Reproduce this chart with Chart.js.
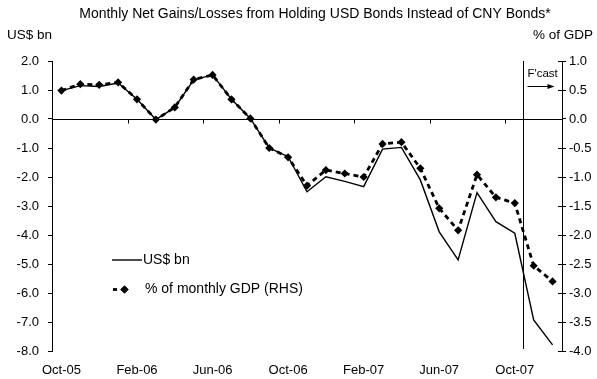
<!DOCTYPE html>
<html>
<head>
<meta charset="utf-8">
<script src="https://cdn.jsdelivr.net/npm/chart.js@4"></script>
<style>
  html, body { margin: 0; padding: 0; background: #fff; }
  canvas { display: block; }
</style>
</head>
<body>
<canvas id="chart" width="597" height="379"></canvas>
<script>
// Monthly categories, Oct-05 through Dec-07
const months = ['Oct-05','Nov-05','Dec-05','Jan-06','Feb-06','Mar-06','Apr-06','May-06','Jun-06',
                'Jul-06','Aug-06','Sep-06','Oct-06','Nov-06','Dec-06','Jan-07','Feb-07','Mar-07',
                'Apr-07','May-07','Jun-07','Jul-07','Aug-07','Sep-07','Oct-07','Nov-07','Dec-07'];

// Net gain/loss, US$ bn (left axis)
const usdBn = [0.98, 1.15, 1.12, 1.24, 0.68, -0.02, 0.40, 1.35, 1.52, 0.68, 0.02, -1.00, -1.30,
               -2.51, -1.99, -2.15, -2.33, -1.04, -0.98, -2.10, -3.89, -4.86, -2.54, -3.54, -3.94,
               -6.93, -7.79];

// Net gain/loss, % of monthly GDP (right axis)
const pctGdp = [0.49, 0.60, 0.59, 0.63, 0.34, -0.01, 0.20, 0.68, 0.76, 0.34, 0.01, -0.50, -0.66,
                -1.15, -0.88, -0.94, -1.00, -0.43, -0.40, -0.85, -1.54, -1.92, -0.96, -1.35, -1.45,
                -2.53, -2.80];

const seriesLabels = ['US$ bn', '% of monthly GDP (RHS)'];
const titleText = 'Monthly Net Gains/Losses from Holding USD Bonds Instead of CNY Bonds*';
const leftUnit = 'US$ bn';
const rightUnit = '% of GDP';
const forecastLabel = "F'cast";
const firstForecastMonth = 'Nov-07';
const labelEvery = 4;

const FONT = "'Liberation Sans', Arial, sans-serif";
Chart.defaults.font.family = FONT;
Chart.defaults.color = '#000';

// Texts above the plot: title and axis unit captions
const headerPlugin = {
  id: 'header',
  afterDraw(chart) {
    const ctx = chart.ctx;
    ctx.save();
    ctx.fillStyle = '#000';
    ctx.textBaseline = 'middle';
    ctx.font = '14px ' + FONT;
    ctx.textAlign = 'center';
    ctx.fillText(titleText, 315, 14);
    ctx.font = '13.5px ' + FONT;
    ctx.textAlign = 'left';
    ctx.fillText(leftUnit, 7, 35);
    ctx.textAlign = 'right';
    ctx.fillText(rightUnit, 593, 35);
    ctx.restore();
  }
};

// Horizontal axis line at zero with boundary tick marks, cross ticks on the right axis,
// and the forecast divider
const axesPlugin = {
  id: 'axesExtras',
  beforeDatasetsDraw(chart) {
    const { ctx, chartArea, scales } = chart;
    const x = scales.x, y = scales.y, y2 = scales.y2;
    ctx.save();
    ctx.strokeStyle = '#000';
    ctx.lineWidth = 1;
    const y0 = Math.round(y.getPixelForValue(0)) + 0.5;
    ctx.beginPath();
    ctx.moveTo(chartArea.left, y0);
    ctx.lineTo(chartArea.right, y0);
    for (let i = labelEvery; i < months.length; i += labelEvery) {
      const bx = Math.round((x.getPixelForValue(i - 1) + x.getPixelForValue(i)) / 2) + 0.5;
      ctx.moveTo(bx, y0);
      ctx.lineTo(bx, y0 + 4);
    }
    // inner half of right-axis ticks
    const rx = Math.round(chartArea.right);
    y2.ticks.forEach(t => {
      const ty = Math.round(y2.getPixelForValue(t.value)) + 0.5;
      ctx.moveTo(rx - 4, ty);
      ctx.lineTo(rx, ty);
    });
    // forecast divider
    const fi = months.indexOf(firstForecastMonth);
    const step = x.getPixelForValue(fi) - x.getPixelForValue(fi - 1);
    const fx = Math.round(x.getPixelForValue(fi - 1) + step * 0.42) + 0.5;
    ctx.moveTo(fx, chartArea.top);
    ctx.lineTo(fx, chartArea.bottom - 2);
    ctx.stroke();

    // forecast caption and arrow
    ctx.fillStyle = '#000';
    ctx.font = '11.5px ' + FONT;
    ctx.textAlign = 'left';
    ctx.textBaseline = 'middle';
    ctx.fillText(forecastLabel, fx + 4, chartArea.top + 13);
    const ay = chartArea.top + 25.5;
    ctx.beginPath();
    ctx.moveTo(fx + 4, ay);
    ctx.lineTo(fx + 26, ay);
    ctx.stroke();
    ctx.beginPath();
    ctx.moveTo(fx + 31, ay);
    ctx.lineTo(fx + 24, ay - 2.5);
    ctx.lineTo(fx + 24, ay + 2.5);
    ctx.closePath();
    ctx.fill();
    ctx.restore();
  }
};

// Legend drawn inside the plot area
const legendPlugin = {
  id: 'innerLegend',
  afterDraw(chart) {
    const { ctx, chartArea } = chart;
    const ds = chart.data.datasets;
    const lx = chartArea.left + 60;
    ctx.save();
    ctx.fillStyle = '#000';
    ctx.strokeStyle = '#000';
    ctx.font = '14px ' + FONT;
    ctx.textBaseline = 'middle';
    ctx.textAlign = 'left';
    // solid series
    let ly = 260;
    ctx.lineWidth = ds[0].borderWidth;
    ctx.beginPath();
    ctx.moveTo(lx, ly);
    ctx.lineTo(lx + 30, ly);
    ctx.stroke();
    ctx.fillText(ds[0].label, lx + 31, ly);
    // dashed series with marker
    ly = 289.5;
    ctx.lineWidth = ds[1].borderWidth;
    ctx.beginPath();
    ctx.moveTo(lx + 1, ly);
    ctx.lineTo(lx + 5, ly);
    ctx.stroke();
    Chart.helpers.drawPoint(ctx, { pointStyle: 'rectRot', radius: ds[1].pointRadius, borderWidth: 0 },
      lx + 12.5, ly);
    ctx.fill();
    ctx.fillText(ds[1].label, lx + 33, ly);
    ctx.restore();
  }
};

new Chart(document.getElementById('chart'), {
  type: 'line',
  data: {
    labels: months,
    datasets: [
      {
        label: seriesLabels[0],
        data: usdBn,
        yAxisID: 'y',
        borderColor: '#000',
        borderWidth: 1.4,
        pointRadius: 0,
        tension: 0,
        fill: false
      },
      {
        label: seriesLabels[1],
        data: pctGdp,
        yAxisID: 'y2',
        borderColor: '#000',
        borderWidth: 2.8,
        borderDash: [5, 4],
        pointStyle: 'rectRot',
        pointRadius: 4.1,
        pointBackgroundColor: '#000',
        pointBorderWidth: 0,
        tension: 0,
        fill: false
      }
    ]
  },
  options: {
    responsive: false,
    animation: false,
    devicePixelRatio: 1,
    layout: { padding: { top: 61, left: 0, right: 0, bottom: 0 } },
    plugins: {
      legend: { display: false },
      tooltip: { enabled: false },
      title: { display: false }
    },
    scales: {
      x: {
        offset: true,
        grid: { display: false, drawTicks: false },
        border: { display: false },
        ticks: {
          autoSkip: false,
          maxRotation: 0,
          padding: 12,
          color: '#000',
          font: { size: 13 },
          callback: (v, i) => (i % labelEvery === 0 ? months[i] : '')
        },
        afterFit: s => { s.height = 28; }
      },
      y: {
        position: 'left',
        min: -8,
        max: 2,
        ticks: {
          stepSize: 1,
          padding: 9,
          color: '#000',
          font: { size: 13 },
          callback: v => Number(v).toFixed(1)
        },
        grid: { drawOnChartArea: false, tickLength: 4, color: '#000' },
        border: { color: '#000', width: 1 },
        afterFit: s => { s.width = 52; }
      },
      y2: {
        position: 'right',
        min: -4,
        max: 1,
        ticks: {
          stepSize: 0.5,
          padding: 3,
          color: '#000',
          font: { size: 13 },
          callback: v => Number(v).toFixed(1)
        },
        grid: { drawOnChartArea: false, tickLength: 4, color: '#000' },
        border: { color: '#000', width: 1 },
        afterFit: s => { s.width = 35; }
      }
    }
  },
  plugins: [headerPlugin, axesPlugin, legendPlugin]
});
</script>
</body>
</html>
